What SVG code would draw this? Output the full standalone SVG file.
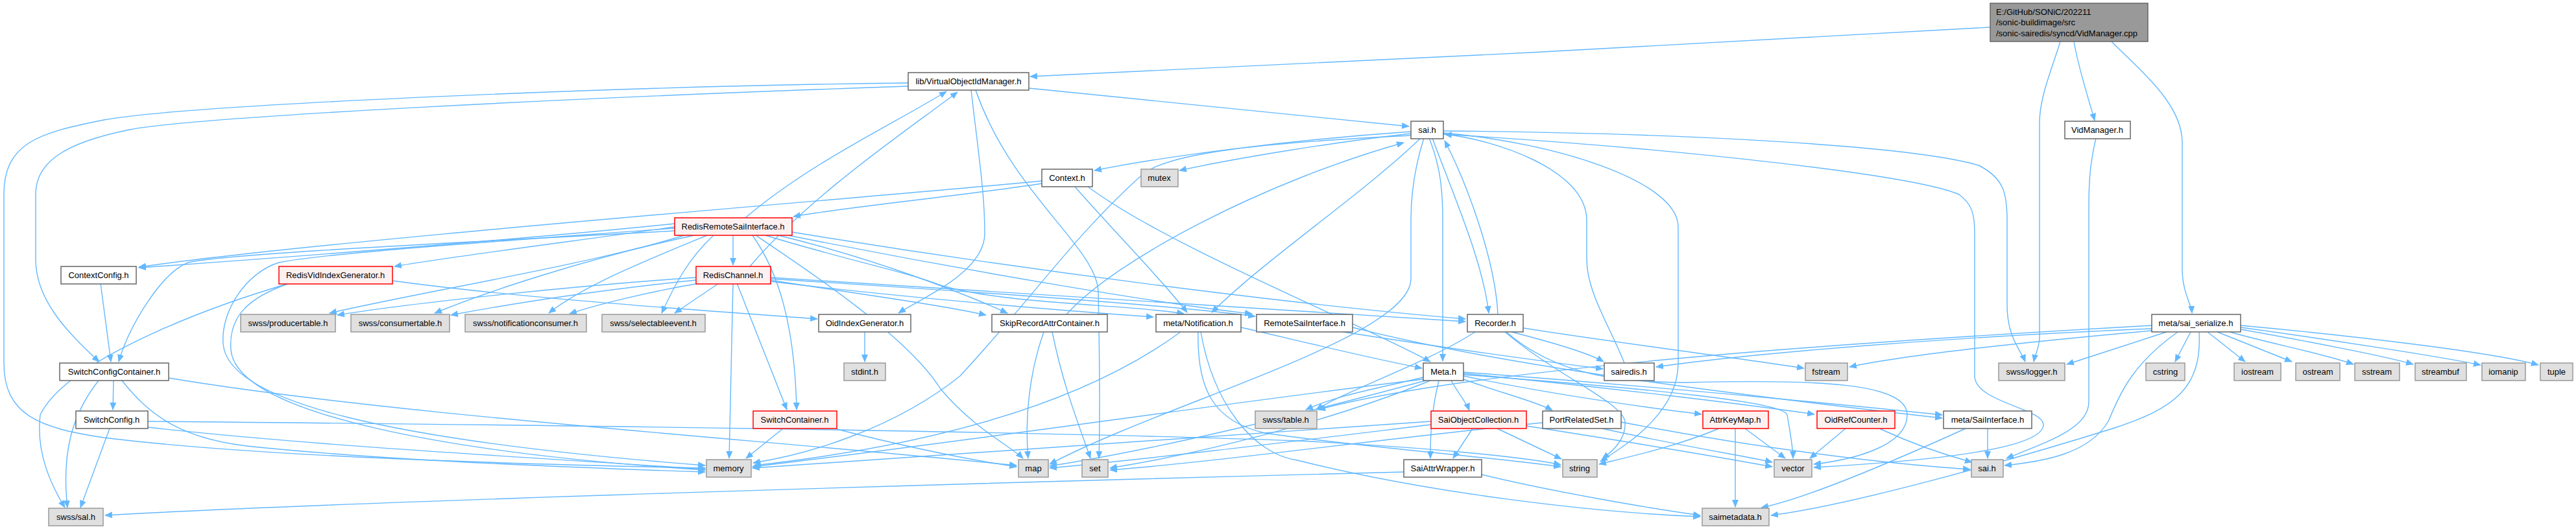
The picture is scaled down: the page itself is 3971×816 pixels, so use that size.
<svg xmlns="http://www.w3.org/2000/svg" width="3971" height="816" viewBox="0 0 3971 816">
<style>
.e{fill:none;stroke:#63b8ff;stroke-width:1.4;marker-end:url(#a)}
.w{fill:#ffffff;stroke:#666666;stroke-width:1.5}
.g{fill:#e0e0e0;stroke:#999999;stroke-width:1.5}
.r{fill:#fff0f0;stroke:#ff0000;stroke-width:1.5}
.root{fill:#999999;stroke:#666666;stroke-width:1.5}
text{font-family:"Liberation Sans",Arial,sans-serif;font-size:13px;fill:#000000}
.c{text-anchor:middle}
</style>
<defs>
<marker id="a" viewBox="0 0 12 10" refX="11" refY="5" markerWidth="12" markerHeight="10" markerUnits="userSpaceOnUse" orient="auto"><path d="M0,0 L12,5 L0,10 z" fill="#63b8ff"/></marker>
</defs>
<rect width="3971" height="816" fill="#ffffff"/>
<g id="edges">
<path class="e" d="M3068,42 C2700,65 1900,105 1588,118"/>
<path class="e" d="M3197,64 C3205,110 3222,160 3229,186"/>
<path class="e" d="M3176,64 C3162,110 3144,150 3144,190 L3144,520 C3144,535 3137,548 3135,558"/>
<path class="e" d="M3255,64 C3300,110 3364,160 3364,220 L3364,420 C3365,450 3378,470 3379,483"/>
<path class="e" d="M3231,213 C3222,250 3220,280 3220,320 L3220,620 C3220,660 3160,680 3093,707"/>
<path class="e" d="M1586,136 L2172,195"/>
<path class="e" d="M1400,128 C1000,132 300,160 160,185 C60,205 6,220 6,300 L6,560 C6,640 60,660 160,675 C400,705 800,716 1087,722"/>
<path class="e" d="M1400,133 C900,150 300,180 200,200 C100,220 55,250 55,300 L55,400 C55,460 100,510 153,558"/>
<path class="e" d="M1497,139 C1510,250 1518,300 1518,360 C1518,420 1420,460 1385,483"/>
<path class="e" d="M1504,139 C1560,300 1690,380 1693,450 C1695,550 1696,640 1694,707"/>
<path class="e" d="M1149,336 C1250,250 1380,190 1459,141"/>
<path class="e" d="M1156,411 C1250,300 1400,200 1476,142"/>
<path class="e" d="M1606,279 C1400,300 500,370 214,412"/>
<path class="e" d="M1606,283 C1500,300 1300,320 1223,334"/>
<path class="e" d="M1657,288 C1720,360 1790,430 1830,482"/>
<path class="e" d="M1677,288 C1800,380 2100,500 2205,558"/>
<path class="e" d="M2175,203 C2000,215 1800,240 1687,263"/>
<path class="e" d="M2175,206 C2050,220 1900,245 1818,263"/>
<path class="e" d="M2175,209 C1950,220 1800,235 1760,270 C1650,370 1600,450 1480,580 C1380,660 1250,700 1161,714"/>
<path class="e" d="M2208,213 C2240,300 2285,400 2295,483"/>
<path class="e" d="M2309,485 C2305,400 2260,280 2227,217"/>
<path class="e" d="M2203,213 C2222,260 2224,300 2224,340 L2224,557"/>
<path class="e" d="M2195,213 C2180,260 2175,300 2175,340 L2175,430 C2175,520 1800,620 1618,716"/>
<path class="e" d="M2504,560 C2480,500 2446,450 2446,400 L2446,340 C2446,260 2300,215 2227,207"/>
<path class="e" d="M2225,205 C2400,220 2587,280 2587,350 L2587,560 C2587,640 2500,690 2467,712"/>
<path class="e" d="M2225,202 C2600,205 2950,225 3050,255 C3090,275 3094,300 3094,340 L3094,470 C3094,520 3115,540 3122,558"/>
<path class="e" d="M2225,207 C2600,230 2950,270 3020,300 C3040,315 3044,330 3044,360 L3044,580 C3044,620 3150,630 3150,655 C3150,700 2900,715 2796,721"/>
<path class="e" d="M1644,485 C1720,400 1950,280 2164,220"/>
<path class="e" d="M2190,213 C2100,300 1950,400 1868,482"/>
<path class="e" d="M1040,345 C800,370 400,400 214,413"/>
<path class="e" d="M1040,350 C900,370 700,395 608,411"/>
<path class="e" d="M1040,356 C800,370 350,390 290,405 C250,420 200,500 183,558"/>
<path class="e" d="M1040,352 C800,370 500,390 430,405 C380,420 340,480 344,530 C350,620 600,680 1087,718"/>
<path class="e" d="M446,437 C380,460 352,490 356,540 C365,640 700,700 1087,725"/>
<path class="e" d="M446,437 C300,480 100,560 62,640 C55,700 80,750 100,783"/>
<path class="e" d="M605,433 C800,460 1100,480 1260,492"/>
<path class="e" d="M155,437 L171,558"/>
<path class="e" d="M175,587 L174,632"/>
<path class="e" d="M152,587 C110,640 95,700 104,783"/>
<path class="e" d="M188,587 C230,640 280,680 400,690 C600,710 900,722 1087,728"/>
<path class="e" d="M260,583 C600,640 1200,680 1567,718"/>
<path class="e" d="M228,650 C800,655 1600,665 2000,680 C2200,690 2350,705 2406,717"/>
<path class="e" d="M228,659 C500,690 900,710 1087,724"/>
<path class="e" d="M169,661 L124,783"/>
<path class="e" d="M1055,363 C900,410 650,450 508,483"/>
<path class="e" d="M1073,428 C900,440 650,465 520,486"/>
<path class="e" d="M1070,363 C900,400 750,450 670,483"/>
<path class="e" d="M1073,432 C900,450 780,470 695,486"/>
<path class="e" d="M1090,363 C1000,400 900,440 846,483"/>
<path class="e" d="M1078,437 C1000,450 920,470 878,484"/>
<path class="e" d="M1100,363 C1060,400 1040,440 1020,483"/>
<path class="e" d="M1108,437 L1040,483"/>
<path class="e" d="M1130,363 L1130,409"/>
<path class="e" d="M1130,437 L1124,707"/>
<path class="e" d="M1136,437 L1213,632"/>
<path class="e" d="M1160,363 C1200,420 1225,500 1228,632"/>
<path class="e" d="M1207,661 L1150,707"/>
<path class="e" d="M1290,662 C1400,690 1500,710 1567,720"/>
<path class="e" d="M1165,363 C1250,420 1400,520 1450,600 C1500,660 1560,690 1577,707"/>
<path class="e" d="M1200,363 C1350,400 1480,450 1553,483"/>
<path class="e" d="M1187,432 C1300,450 1450,470 1520,486"/>
<path class="e" d="M1180,363 C1300,400 1400,420 1450,440 C1550,470 1750,470 1825,484"/>
<path class="e" d="M1187,434 C1400,460 1650,480 1778,489"/>
<path class="e" d="M1215,363 C1500,420 1800,470 1930,484"/>
<path class="e" d="M1187,430 C1500,450 1800,470 1935,488"/>
<path class="e" d="M1221,358 C1600,420 2000,470 2259,492"/>
<path class="e" d="M1188,428 C1600,455 2000,480 2259,496"/>
<path class="e" d="M1820,512 C1700,600 1500,680 1162,718"/>
<path class="e" d="M1847,512 C1845,600 1870,650 1950,668 C2100,690 2300,705 2406,720"/>
<path class="e" d="M1851,512 C1870,620 1930,700 2000,710 C2200,760 2450,790 2621,797"/>
<path class="e" d="M1913,505 C2000,525 2100,550 2192,568"/>
<path class="e" d="M2070,512 C2250,540 2400,560 2471,569"/>
<path class="e" d="M2085,505 C2300,560 2600,600 2994,645"/>
<path class="e" d="M2274,512 C2200,560 2080,600 2029,632"/>
<path class="e" d="M2194,582 C2120,600 2060,610 2013,632"/>
<path class="e" d="M3317,502 C3000,520 2300,560 2032,632"/>
<path class="e" d="M3317,507 C3000,520 2700,545 2553,566"/>
<path class="e" d="M3317,510 C3150,525 2950,545 2851,566"/>
<path class="e" d="M2348,506 C2500,530 2700,555 2781,568"/>
<path class="e" d="M2330,512 C2400,530 2450,545 2472,558"/>
<path class="e" d="M2320,512 C2400,580 2500,620 2505,650 C2508,680 2480,700 2470,708"/>
<path class="e" d="M2322,512 C2400,580 2500,590 2600,590 C2800,585 2940,590 2940,640 C2940,690 2850,710 2796,716"/>
<path class="e" d="M2237,587 C2250,610 2260,620 2265,633"/>
<path class="e" d="M2256,585 C2310,605 2370,620 2393,633"/>
<path class="e" d="M2256,580 C2400,610 2550,630 2623,639"/>
<path class="e" d="M2256,576 C2500,600 2700,625 2797,639"/>
<path class="e" d="M2256,574 C2600,600 2850,625 2994,640"/>
<path class="e" d="M2256,578 C2550,600 2750,620 2755,640 C2760,670 2764,690 2764,707"/>
<path class="e" d="M2218,587 C2205,640 2205,680 2205,707"/>
<path class="e" d="M2194,585 C1900,620 1500,680 1160,720"/>
<path class="e" d="M2198,587 C2000,640 1800,690 1618,719"/>
<path class="e" d="M2205,587 C2050,650 1850,700 1711,722"/>
<path class="e" d="M2270,661 L2240,707"/>
<path class="e" d="M2308,661 L2407,708"/>
<path class="e" d="M2206,650 C1800,680 1400,705 1160,722"/>
<path class="e" d="M2206,655 C2000,680 1800,705 1618,722"/>
<path class="e" d="M2353,657 C2500,680 2650,705 2732,720"/>
<path class="e" d="M2378,652 C2100,680 1900,710 1711,725"/>
<path class="e" d="M2470,661 C2600,690 2700,705 2732,713"/>
<path class="e" d="M2499,651 C2700,690 2900,715 3037,724"/>
<path class="e" d="M2650,661 C2580,690 2510,705 2465,716"/>
<path class="e" d="M2690,661 L2752,707"/>
<path class="e" d="M2675,661 L2675,782"/>
<path class="e" d="M2845,661 L2790,707"/>
<path class="e" d="M2897,661 C2960,690 3010,705 3040,713"/>
<path class="e" d="M3030,661 C2900,720 2780,770 2715,783"/>
<path class="e" d="M3064,661 L3064,707"/>
<path class="e" d="M3390,512 C3395,600 3350,630 3260,660 C3100,710 2850,780 2730,795"/>
<path class="e" d="M3357,512 C3290,560 3271,600 3250,650 C3220,700 3150,712 3090,718"/>
<path class="e" d="M3340,512 L3186,562"/>
<path class="e" d="M3377,512 L3353,558"/>
<path class="e" d="M3403,512 L3461,558"/>
<path class="e" d="M3418,512 L3533,558"/>
<path class="e" d="M3437,512 C3500,530 3580,545 3628,562"/>
<path class="e" d="M3454,508 C3550,525 3680,550 3720,562"/>
<path class="e" d="M3454,505 C3600,525 3760,550 3824,563"/>
<path class="e" d="M3454,502 C3650,520 3850,545 3913,563"/>
<path class="e" d="M2284,732 C2400,760 2550,785 2621,795"/>
<path class="e" d="M2164,728 C1500,745 500,775 162,795"/>
<path class="e" d="M1609,512 C1585,580 1580,650 1585,707"/>
<path class="e" d="M1622,512 C1640,600 1665,660 1681,707"/>
<path class="e" d="M1333,512 L1333,558"/>
</g>
<g id="node-root"><rect class="root" x="3068" y="5" width="243" height="59"/><text x="3077" y="23">E:/GitHub/SONiC/202211</text><text x="3077" y="39">/sonic-buildimage/src</text><text x="3077" y="56">/sonic-sairedis/syncd/VidManager.cpp</text></g>
<g id="node-voim"><rect class="w" x="1400" y="112" width="186" height="27"/><text class="c" x="1493" y="130">lib/VirtualObjectIdManager.h</text></g>
<g id="node-sai-w"><rect class="w" x="2175" y="187" width="50" height="27"/><text class="c" x="2200" y="205">sai.h</text></g>
<g id="node-vidmanager"><rect class="w" x="3183" y="187" width="101" height="27"/><text class="c" x="3233" y="205">VidManager.h</text></g>
<g id="node-context"><rect class="w" x="1606" y="261" width="78" height="27"/><text class="c" x="1645" y="279">Context.h</text></g>
<g id="node-mutex"><rect class="g" x="1759" y="261" width="57" height="27"/><text class="c" x="1787" y="279">mutex</text></g>
<g id="node-rrsi"><rect class="r" x="1040" y="336" width="181" height="27"/><text class="c" x="1130" y="354">RedisRemoteSaiInterface.h</text></g>
<g id="node-contextconfig"><rect class="w" x="94" y="411" width="116" height="27"/><text class="c" x="152" y="429">ContextConfig.h</text></g>
<g id="node-rvig"><rect class="r" x="430" y="411" width="175" height="27"/><text class="c" x="517" y="429">RedisVidIndexGenerator.h</text></g>
<g id="node-redischannel"><rect class="r" x="1073" y="411" width="115" height="27"/><text class="c" x="1130" y="429">RedisChannel.h</text></g>
<g id="node-producertable"><rect class="g" x="371" y="485" width="146" height="27"/><text class="c" x="444" y="503">swss/producertable.h</text></g>
<g id="node-consumertable"><rect class="g" x="541" y="485" width="152" height="27"/><text class="c" x="617" y="503">swss/consumertable.h</text></g>
<g id="node-notificationconsumer"><rect class="g" x="717" y="485" width="187" height="27"/><text class="c" x="810" y="503">swss/notificationconsumer.h</text></g>
<g id="node-selectableevent"><rect class="g" x="928" y="485" width="159" height="27"/><text class="c" x="1007" y="503">swss/selectableevent.h</text></g>
<g id="node-oidindexgenerator"><rect class="w" x="1262" y="485" width="142" height="27"/><text class="c" x="1333" y="503">OidIndexGenerator.h</text></g>
<g id="node-skiprecord"><rect class="w" x="1529" y="485" width="178" height="27"/><text class="c" x="1618" y="503">SkipRecordAttrContainer.h</text></g>
<g id="node-notification"><rect class="w" x="1782" y="485" width="131" height="27"/><text class="c" x="1847" y="503">meta/Notification.h</text></g>
<g id="node-remotesai"><rect class="w" x="1937" y="485" width="148" height="27"/><text class="c" x="2011" y="503">RemoteSaiInterface.h</text></g>
<g id="node-recorder"><rect class="w" x="2262" y="485" width="86" height="27"/><text class="c" x="2305" y="503">Recorder.h</text></g>
<g id="node-saiserialize"><rect class="w" x="3317" y="485" width="137" height="27"/><text class="c" x="3385" y="503">meta/sai_serialize.h</text></g>
<g id="node-scc"><rect class="w" x="92" y="560" width="168" height="27"/><text class="c" x="176" y="578">SwitchConfigContainer.h</text></g>
<g id="node-stdint"><rect class="g" x="1301" y="560" width="64" height="27"/><text class="c" x="1333" y="578">stdint.h</text></g>
<g id="node-meta"><rect class="w" x="2194" y="560" width="62" height="27"/><text class="c" x="2225" y="578">Meta.h</text></g>
<g id="node-sairedis"><rect class="w" x="2473" y="560" width="77" height="27"/><text class="c" x="2511" y="578">sairedis.h</text></g>
<g id="node-fstream"><rect class="g" x="2783" y="560" width="65" height="27"/><text class="c" x="2815" y="578">fstream</text></g>
<g id="node-logger"><rect class="g" x="3081" y="560" width="102" height="27"/><text class="c" x="3132" y="578">swss/logger.h</text></g>
<g id="node-cstring"><rect class="g" x="3308" y="560" width="60" height="27"/><text class="c" x="3338" y="578">cstring</text></g>
<g id="node-iostream"><rect class="g" x="3444" y="560" width="72" height="27"/><text class="c" x="3480" y="578">iostream</text></g>
<g id="node-ostream"><rect class="g" x="3539" y="560" width="68" height="27"/><text class="c" x="3573" y="578">ostream</text></g>
<g id="node-sstream"><rect class="g" x="3630" y="560" width="69" height="27"/><text class="c" x="3664" y="578">sstream</text></g>
<g id="node-streambuf"><rect class="g" x="3723" y="560" width="79" height="27"/><text class="c" x="3762" y="578">streambuf</text></g>
<g id="node-iomanip"><rect class="g" x="3826" y="560" width="67" height="27"/><text class="c" x="3859" y="578">iomanip</text></g>
<g id="node-tuple"><rect class="g" x="3916" y="560" width="50" height="27"/><text class="c" x="3941" y="578">tuple</text></g>
<g id="node-switchconfig"><rect class="w" x="117" y="634" width="111" height="27"/><text class="c" x="172" y="652">SwitchConfig.h</text></g>
<g id="node-switchcontainer"><rect class="r" x="1161" y="634" width="129" height="27"/><text class="c" x="1225" y="652">SwitchContainer.h</text></g>
<g id="node-table"><rect class="g" x="1935" y="634" width="95" height="27"/><text class="c" x="1982" y="652">swss/table.h</text></g>
<g id="node-soc"><rect class="r" x="2206" y="634" width="147" height="27"/><text class="c" x="2279" y="652">SaiObjectCollection.h</text></g>
<g id="node-prs"><rect class="w" x="2378" y="634" width="121" height="27"/><text class="c" x="2438" y="652">PortRelatedSet.h</text></g>
<g id="node-attrkeymap"><rect class="r" x="2625" y="634" width="101" height="27"/><text class="c" x="2675" y="652">AttrKeyMap.h</text></g>
<g id="node-oidrefcounter"><rect class="r" x="2801" y="634" width="120" height="27"/><text class="c" x="2861" y="652">OidRefCounter.h</text></g>
<g id="node-saiinterface"><rect class="w" x="2996" y="634" width="136" height="27"/><text class="c" x="3064" y="652">meta/SaiInterface.h</text></g>
<g id="node-memory"><rect class="g" x="1089" y="709" width="69" height="27"/><text class="c" x="1123" y="727">memory</text></g>
<g id="node-map"><rect class="g" x="1570" y="709" width="46" height="27"/><text class="c" x="1593" y="727">map</text></g>
<g id="node-set"><rect class="g" x="1668" y="709" width="40" height="27"/><text class="c" x="1688" y="727">set</text></g>
<g id="node-saiattrwrapper"><rect class="w" x="2164" y="709" width="120" height="27"/><text class="c" x="2224" y="727">SaiAttrWrapper.h</text></g>
<g id="node-string"><rect class="g" x="2409" y="709" width="53" height="27"/><text class="c" x="2435" y="727">string</text></g>
<g id="node-vector"><rect class="g" x="2735" y="709" width="58" height="27"/><text class="c" x="2764" y="727">vector</text></g>
<g id="node-sai-g"><rect class="g" x="3039" y="709" width="49" height="27"/><text class="c" x="3063" y="727">sai.h</text></g>
<g id="node-sal"><rect class="g" x="75" y="784" width="84" height="27"/><text class="c" x="117" y="802">swss/sal.h</text></g>
<g id="node-saimetadata"><rect class="g" x="2624" y="784" width="103" height="27"/><text class="c" x="2675" y="802">saimetadata.h</text></g>
</svg>
